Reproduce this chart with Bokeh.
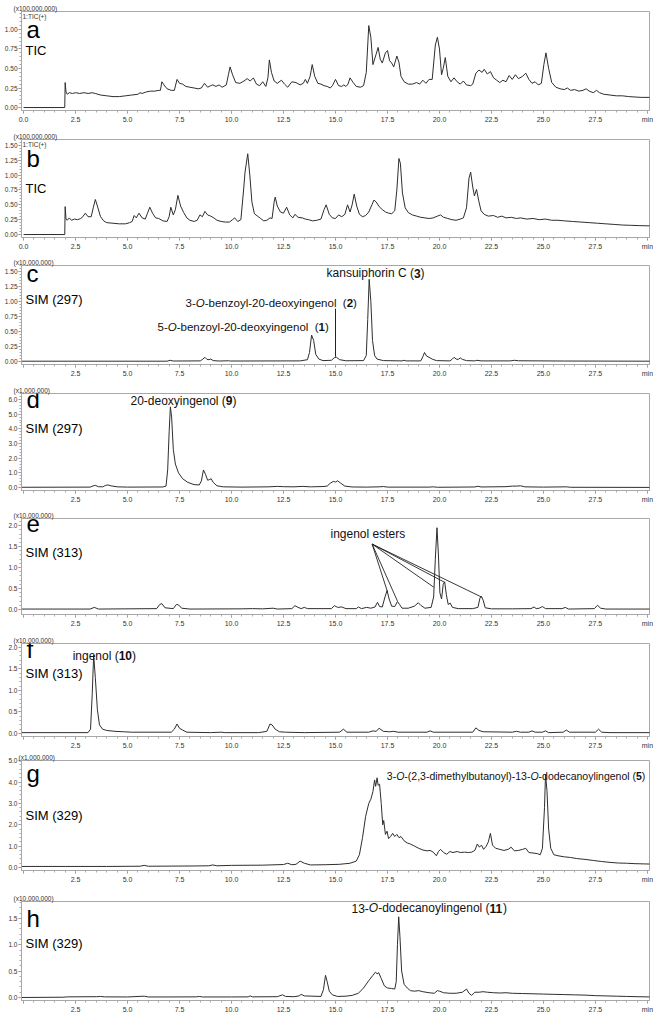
from bokeh.plotting import figure
from bokeh.models import Label, FixedTicker, PrintfTickFormatter, CustomJSTickFormatter, Range1d
from bokeh.layouts import column
from bokeh.embed import file_html
from bokeh.resources import INLINE

FONT = "Liberation Sans"
LINE = "#2e2e2e"
FRAME = "#a8a8a8"
TXT = "#111111"

# ---------------- data (time in min, intensity in the panel's multiplier units) ----------------
trace_a = [(0.0,0.0),(1.98,0.0),(2.0,0.32),(2.04,0.20),(2.1,0.17),(2.2,0.19),(2.35,0.18),(2.5,0.19),(2.7,0.18),(2.9,0.19),(3.1,0.18),(3.3,0.19),(3.45,0.18),(3.7,0.16),(4.0,0.15),(4.3,0.14),(4.6,0.14),(4.9,0.15),(5.2,0.16),(5.5,0.17),(5.6,0.19),(5.7,0.18),(5.9,0.20),(6.1,0.21),(6.3,0.21),(6.5,0.22),(6.58,0.22),(6.65,0.33),(6.75,0.29),(6.9,0.24),(7.1,0.22),(7.25,0.22),(7.38,0.36),(7.5,0.31),(7.65,0.30),(7.8,0.27),(8.0,0.26),(8.2,0.25),(8.4,0.24),(8.55,0.25),(8.7,0.31),(8.85,0.26),(9.0,0.28),(9.1,0.29),(9.25,0.27),(9.4,0.29),(9.55,0.26),(9.75,0.29),(9.85,0.42),(9.93,0.52),(10.05,0.42),(10.2,0.32),(10.4,0.31),(10.6,0.34),(10.75,0.37),(10.9,0.34),(11.05,0.38),(11.2,0.30),(11.35,0.28),(11.5,0.33),(11.65,0.27),(11.75,0.38),(11.82,0.61),(11.92,0.45),(12.05,0.34),(12.2,0.31),(12.4,0.35),(12.55,0.30),(12.7,0.26),(12.9,0.33),(13.1,0.32),(13.3,0.29),(13.45,0.31),(13.55,0.36),(13.65,0.31),(13.78,0.40),(13.88,0.55),(14.0,0.40),(14.15,0.31),(14.3,0.30),(14.45,0.28),(14.6,0.27),(14.75,0.25),(14.85,0.28),(15.0,0.36),(15.15,0.28),(15.3,0.27),(15.4,0.29),(15.5,0.27),(15.6,0.30),(15.7,0.38),(15.85,0.32),(16.0,0.27),(16.2,0.26),(16.35,0.28),(16.48,0.45),(16.6,1.05),(16.7,0.90),(16.8,0.55),(16.95,0.68),(17.05,0.77),(17.15,0.62),(17.25,0.57),(17.4,0.70),(17.5,0.73),(17.6,0.60),(17.7,0.57),(17.8,0.52),(17.95,0.66),(18.05,0.58),(18.15,0.40),(18.3,0.33),(18.5,0.30),(18.7,0.30),(18.9,0.32),(19.05,0.30),(19.2,0.35),(19.35,0.31),(19.5,0.36),(19.65,0.36),(19.8,0.80),(19.9,0.90),(20.0,0.75),(20.1,0.42),(20.18,0.50),(20.28,0.64),(20.4,0.40),(20.55,0.33),(20.7,0.38),(20.85,0.33),(21.0,0.30),(21.15,0.34),(21.3,0.29),(21.5,0.28),(21.6,0.30),(21.75,0.44),(21.9,0.48),(22.05,0.45),(22.15,0.49),(22.3,0.43),(22.45,0.46),(22.6,0.38),(22.75,0.35),(22.9,0.32),(23.05,0.35),(23.2,0.33),(23.35,0.41),(23.5,0.36),(23.65,0.42),(23.8,0.37),(24.0,0.40),(24.15,0.44),(24.3,0.36),(24.45,0.31),(24.6,0.33),(24.75,0.29),(24.9,0.31),(25.02,0.55),(25.12,0.70),(25.25,0.50),(25.4,0.32),(25.6,0.26),(25.8,0.24),(26.0,0.23),(26.15,0.25),(26.3,0.22),(26.5,0.23),(26.7,0.21),(26.9,0.22),(27.05,0.24),(27.2,0.21),(27.4,0.19),(27.55,0.22),(27.7,0.19),(27.9,0.17),(28.2,0.16),(28.5,0.15),(28.8,0.15),(29.1,0.14),(29.4,0.135),(29.7,0.13),(30.2,0.13)]

trace_b = [(0.0,0.0),(1.98,0.0),(2.0,0.47),(2.04,0.26),(2.1,0.24),(2.2,0.28),(2.3,0.24),(2.45,0.26),(2.6,0.25),(2.75,0.27),(2.85,0.30),(2.97,0.36),(3.1,0.30),(3.25,0.30),(3.35,0.45),(3.45,0.59),(3.55,0.48),(3.7,0.30),(3.85,0.23),(4.0,0.20),(4.3,0.19),(4.6,0.18),(4.9,0.18),(5.1,0.20),(5.22,0.22),(5.32,0.32),(5.42,0.28),(5.55,0.36),(5.7,0.28),(5.85,0.26),(5.95,0.35),(6.07,0.46),(6.2,0.36),(6.35,0.28),(6.5,0.27),(6.7,0.23),(6.9,0.22),(7.0,0.30),(7.08,0.46),(7.2,0.33),(7.3,0.42),(7.42,0.66),(7.55,0.48),(7.7,0.37),(7.85,0.28),(8.0,0.24),(8.2,0.22),(8.35,0.24),(8.48,0.33),(8.6,0.30),(8.72,0.39),(8.85,0.33),(9.0,0.31),(9.15,0.28),(9.3,0.24),(9.5,0.22),(9.7,0.21),(9.9,0.21),(10.05,0.25),(10.15,0.28),(10.3,0.22),(10.45,0.25),(10.58,0.75),(10.65,1.05),(10.78,1.36),(10.88,1.0),(10.98,0.55),(11.1,0.35),(11.25,0.31),(11.4,0.27),(11.55,0.23),(11.7,0.24),(11.85,0.28),(11.95,0.27),(12.05,0.55),(12.1,0.63),(12.2,0.48),(12.35,0.38),(12.5,0.36),(12.65,0.46),(12.8,0.33),(12.95,0.28),(13.05,0.34),(13.2,0.29),(13.4,0.28),(13.55,0.26),(13.7,0.25),(13.9,0.23),(14.1,0.24),(14.3,0.26),(14.45,0.42),(14.55,0.50),(14.7,0.34),(14.85,0.28),(15.0,0.27),(15.15,0.33),(15.3,0.30),(15.45,0.34),(15.58,0.50),(15.7,0.38),(15.8,0.50),(15.9,0.68),(16.02,0.48),(16.15,0.34),(16.3,0.30),(16.45,0.32),(16.6,0.38),(16.75,0.50),(16.85,0.58),(16.95,0.55),(17.1,0.47),(17.25,0.42),(17.4,0.38),(17.55,0.36),(17.7,0.35),(17.85,0.40),(17.95,0.75),(18.05,1.28),(18.12,1.20),(18.22,0.70),(18.35,0.45),(18.5,0.37),(18.7,0.33),(18.9,0.31),(19.1,0.29),(19.3,0.28),(19.5,0.27),(19.7,0.28),(19.9,0.31),(20.05,0.33),(20.2,0.29),(20.4,0.27),(20.6,0.25),(20.8,0.24),(21.0,0.26),(21.15,0.28),(21.3,0.45),(21.42,0.95),(21.5,1.05),(21.6,0.80),(21.68,0.65),(21.78,0.76),(21.9,0.55),(22.0,0.40),(22.15,0.34),(22.35,0.31),(22.6,0.32),(22.8,0.29),(23.0,0.31),(23.2,0.28),(23.45,0.29),(23.7,0.27),(23.9,0.28),(24.2,0.26),(24.5,0.27),(24.8,0.25),(25.1,0.26),(25.4,0.24),(25.7,0.24),(26.0,0.23),(26.4,0.22),(26.8,0.21),(27.2,0.20),(27.6,0.19),(28.0,0.18),(28.4,0.17),(28.8,0.16),(29.2,0.155),(29.6,0.15),(30.2,0.145)]

trace_c = [(-0.1,0.005),(6.9,0.005),(7.05,0.02),(7.2,0.008),(8.5,0.01),(8.62,0.04),(8.72,0.07),(8.82,0.035),(8.92,0.03),(9.0,0.04),(9.12,0.015),(9.4,0.008),(9.85,0.012),(9.95,0.008),(13.3,0.01),(13.65,0.03),(13.75,0.15),(13.85,0.44),(13.95,0.35),(14.05,0.12),(14.2,0.04),(14.4,0.015),(14.8,0.02),(14.95,0.065),(15.05,0.07),(15.2,0.03),(15.5,0.012),(16.35,0.015),(16.48,0.1),(16.55,0.7),(16.62,1.37),(16.7,1.0),(16.78,0.35),(16.88,0.1),(17.0,0.04),(17.3,0.015),(18.2,0.01),(18.3,0.02),(18.4,0.01),(19.1,0.01),(19.2,0.08),(19.28,0.15),(19.38,0.09),(19.5,0.07),(19.65,0.04),(19.85,0.015),(20.5,0.01),(20.62,0.04),(20.7,0.07),(20.8,0.04),(20.9,0.035),(21.0,0.06),(21.1,0.035),(21.3,0.015),(21.7,0.01),(21.8,0.02),(22.0,0.01),(23.4,0.01),(23.6,0.02),(23.8,0.012),(26.0,0.008),(30.2,0.005)]

trace_d = [(-0.1,0.02),(3.2,0.03),(3.35,0.12),(3.45,0.15),(3.6,0.06),(3.8,0.05),(3.95,0.15),(4.05,0.18),(4.2,0.12),(4.5,0.05),(5.0,0.03),(6.7,0.04),(6.85,0.1),(6.93,1.2),(7.0,3.8),(7.06,5.5),(7.12,4.8),(7.2,2.6),(7.3,1.6),(7.45,1.0),(7.65,0.6),(7.9,0.35),(8.2,0.2),(8.45,0.18),(8.55,0.45),(8.65,1.2),(8.75,0.9),(8.85,0.5),(8.95,0.55),(9.02,0.6),(9.12,0.35),(9.3,0.12),(9.6,0.05),(10.5,0.03),(11.8,0.05),(12.2,0.08),(12.5,0.06),(13.0,0.05),(13.4,0.08),(13.8,0.05),(14.4,0.07),(14.6,0.1),(14.75,0.3),(14.9,0.42),(15.0,0.38),(15.1,0.46),(15.25,0.3),(15.45,0.1),(15.8,0.04),(16.5,0.03),(17.1,0.05),(17.3,0.07),(17.5,0.03),(19.5,0.03),(19.7,0.05),(19.9,0.02),(21.7,0.04),(21.85,0.09),(22.0,0.04),(23.2,0.06),(23.5,0.1),(23.7,0.1),(23.9,0.12),(24.1,0.05),(25.0,0.03),(26.1,0.05),(26.3,0.02),(30.2,0.01)]

trace_e = [(-0.1,0.01),(3.2,0.01),(3.4,0.05),(3.6,0.01),(6.4,0.02),(6.55,0.12),(6.65,0.14),(6.8,0.04),(7.2,0.02),(7.35,0.12),(7.45,0.11),(7.6,0.03),(8.0,0.01),(10.5,0.015),(11.0,0.02),(11.5,0.015),(12.0,0.03),(12.2,0.01),(12.9,0.02),(13.05,0.09),(13.2,0.05),(13.35,0.02),(13.5,0.05),(13.65,0.02),(14.8,0.02),(14.95,0.09),(15.1,0.05),(15.3,0.06),(15.5,0.02),(16.0,0.02),(16.1,0.06),(16.25,0.02),(16.5,0.05),(16.7,0.03),(16.9,0.06),(17.02,0.17),(17.12,0.07),(17.25,0.06),(17.38,0.3),(17.48,0.45),(17.58,0.25),(17.7,0.08),(17.85,0.07),(17.98,0.19),(18.08,0.12),(18.2,0.03),(18.5,0.03),(18.8,0.08),(18.98,0.16),(19.1,0.1),(19.3,0.03),(19.6,0.05),(19.72,0.3),(19.8,1.2),(19.88,1.95),(19.95,1.3),(20.02,0.4),(20.1,0.25),(20.18,0.6),(20.25,0.66),(20.33,0.35),(20.42,0.12),(20.52,0.15),(20.62,0.05),(20.9,0.02),(21.6,0.02),(21.85,0.05),(21.95,0.28),(22.02,0.31),(22.1,0.22),(22.2,0.04),(22.5,0.015),(23.5,0.015),(24.4,0.02),(24.55,0.06),(24.65,0.02),(24.8,0.03),(24.95,0.07),(25.1,0.02),(25.9,0.02),(26.05,0.05),(26.2,0.01),(27.45,0.02),(27.6,0.1),(27.75,0.03),(28.0,0.01),(30.2,0.01)]

trace_f = [(-0.1,0.02),(3.1,0.02),(3.22,0.1),(3.3,0.9),(3.37,1.82),(3.45,1.3),(3.55,0.55),(3.65,0.2),(3.8,0.1),(4.0,0.07),(4.4,0.05),(4.8,0.04),(5.2,0.03),(7.1,0.03),(7.25,0.1),(7.38,0.22),(7.5,0.12),(7.65,0.08),(7.85,0.03),(9.0,0.02),(9.5,0.03),(9.7,0.02),(11.3,0.02),(11.7,0.05),(11.85,0.22),(11.95,0.2),(12.1,0.1),(12.3,0.04),(12.6,0.03),(13.5,0.02),(15.2,0.03),(15.38,0.1),(15.55,0.03),(16.6,0.03),(16.8,0.06),(16.95,0.05),(17.1,0.12),(17.3,0.05),(17.6,0.04),(17.8,0.05),(18.0,0.03),(19.4,0.03),(19.55,0.06),(19.7,0.03),(21.6,0.03),(21.75,0.13),(21.9,0.07),(22.1,0.04),(23.5,0.03),(23.7,0.05),(23.9,0.03),(24.3,0.03),(24.45,0.06),(24.6,0.03),(24.95,0.03),(25.1,0.06),(25.25,0.02),(25.95,0.03),(26.1,0.08),(26.25,0.03),(27.5,0.03),(27.65,0.1),(27.8,0.03),(28.2,0.02),(30.2,0.02)]

trace_g = [(-0.1,0.05),(2.0,0.05),(4.0,0.05),(5.6,0.06),(5.8,0.1),(6.0,0.06),(8.0,0.07),(8.9,0.08),(9.1,0.12),(9.3,0.08),(10.0,0.1),(11.5,0.11),(12.5,0.14),(12.7,0.2),(12.9,0.13),(13.1,0.15),(13.3,0.3),(13.5,0.2),(13.8,0.12),(14.5,0.13),(15.2,0.15),(15.7,0.2),(16.0,0.3),(16.15,0.6),(16.3,1.4),(16.45,2.4),(16.6,3.0),(16.7,3.2),(16.8,3.55),(16.88,4.1),(16.93,3.8),(17.0,4.2),(17.05,3.85),(17.12,3.9),(17.2,3.0),(17.27,2.0),(17.32,2.2),(17.4,1.55),(17.48,1.7),(17.55,1.35),(17.65,1.45),(17.75,1.6),(17.85,1.45),(17.95,1.55),(18.05,1.4),(18.15,1.45),(18.3,1.25),(18.45,1.15),(18.6,1.1),(18.8,1.0),(19.0,0.9),(19.2,0.82),(19.4,0.78),(19.55,0.8),(19.7,0.72),(19.85,0.55),(19.95,0.75),(20.05,0.85),(20.2,0.7),(20.35,0.62),(20.5,0.75),(20.65,0.7),(20.85,0.75),(21.0,0.7),(21.2,0.72),(21.4,0.7),(21.55,0.72),(21.7,0.8),(21.82,1.1),(21.92,0.95),(22.02,1.05),(22.12,0.85),(22.25,1.0),(22.35,1.2),(22.45,1.6),(22.55,1.05),(22.7,0.9),(22.9,0.85),(23.1,0.8),(23.3,0.85),(23.45,0.95),(23.6,0.78),(23.8,0.8),(24.0,0.85),(24.15,0.9),(24.3,0.7),(24.5,0.68),(24.7,0.65),(24.85,0.6),(24.95,0.9),(25.05,2.8),(25.1,4.35),(25.17,3.6),(25.25,1.8),(25.35,0.9),(25.5,0.6),(25.7,0.55),(26.0,0.5),(26.3,0.47),(26.6,0.42),(27.0,0.38),(27.4,0.33),(27.8,0.28),(28.2,0.24),(28.6,0.21),(29.0,0.2),(29.4,0.18),(29.8,0.17),(30.2,0.16)]

trace_h = [(-0.1,0.0),(1.9,0.005),(2.1,0.012),(3.5,0.015),(3.7,0.02),(3.9,0.012),(5.0,0.01),(5.8,0.025),(6.0,0.01),(7.0,0.01),(8.3,0.012),(8.45,0.02),(8.6,0.01),(10.0,0.01),(10.8,0.012),(10.9,0.03),(11.0,0.012),(12.2,0.015),(12.45,0.05),(12.6,0.02),(13.0,0.015),(13.25,0.03),(13.35,0.06),(13.5,0.03),(14.3,0.02),(14.42,0.15),(14.52,0.42),(14.6,0.3),(14.7,0.12),(14.85,0.05),(15.1,0.02),(15.5,0.025),(15.8,0.04),(16.1,0.08),(16.35,0.18),(16.6,0.32),(16.8,0.42),(16.92,0.48),(17.0,0.45),(17.08,0.47),(17.2,0.36),(17.35,0.22),(17.5,0.18),(17.7,0.17),(17.85,0.16),(17.92,0.3),(17.98,1.0),(18.04,1.53),(18.1,1.15),(18.18,0.5),(18.3,0.25),(18.45,0.18),(18.6,0.13),(18.8,0.12),(19.0,0.13),(19.2,0.11),(19.5,0.09),(19.75,0.08),(19.9,0.13),(20.0,0.12),(20.2,0.09),(20.5,0.08),(20.8,0.08),(21.1,0.1),(21.3,0.16),(21.42,0.08),(21.55,0.04),(21.7,0.1),(21.9,0.1),(22.1,0.11),(22.3,0.1),(22.6,0.09),(22.9,0.085),(23.2,0.09),(23.5,0.08),(24.0,0.075),(24.5,0.07),(25.0,0.065),(25.5,0.06),(26.0,0.055),(26.5,0.05),(27.0,0.045),(27.5,0.035),(28.0,0.03),(28.5,0.025),(29.0,0.02),(29.5,0.015),(30.2,0.01)]

# tick labels
x_tick_values = [0.0, 2.5, 5.0, 7.5, 10.0, 12.5, 15.0, 17.5, 20.0, 22.5, 25.0, 27.5, 30.0]
x_labels_tic = ["0.0", "2.5", "5.0", "7.5", "10.0", "12.5", "15.0", "17.5", "20.0", "22.5", "25.0", "27.5", "min"]
x_labels_sim = ["", "2.5", "5.0", "7.5", "10.0", "12.5", "15.0", "17.5", "20.0", "22.5", "25.0", "27.5", "min"]

# annotation pointers
c_marker_t = [15.0]
c_marker_v0 = [0.08]
c_marker_v1 = [0.88]
e_origin_t = 16.76
e_origin_v = 1.56
e_target_t = [17.50, 17.98, 19.73, 20.24, 22.05]
e_target_v = [0.42, 0.20, 0.53, 0.65, 0.29]

# Arial / Liberation Sans advance widths (per 1000 em) for laying out mixed-style labels
W = {' ':278,'(':333,')':333,',':278,'-':333,'.':278,':':278,'+':584,
     'A':667,'B':667,'C':722,'D':722,'E':667,'F':611,'G':778,'H':722,'I':278,'J':500,'K':667,'L':556,'M':833,
     'N':722,'O':778,'P':667,'Q':778,'R':722,'S':667,'T':611,'U':722,'V':667,'W':944,'X':667,'Y':667,'Z':611,
     'a':556,'b':556,'c':500,'d':556,'e':556,'f':278,'g':556,'h':556,'i':222,'j':222,'k':500,'l':222,'m':833,
     'n':556,'o':556,'p':556,'q':556,'r':333,'s':500,'t':278,'u':556,'v':500,'w':722,'x':500,'y':500,'z':500}
for _d in "0123456789":
    W[_d] = 556


def tw(s, size):
    return sum(W.get(ch, 556) for ch in s) * size / 1000.0


def rich(p, x, y, runs, size, align="left"):
    total = sum(tw(t, size) for t, _ in runs)
    off = -total if align == "right" else 0.0
    for t, style in runs:
        core = t.strip(" ")
        lead = len(t) - len(t.lstrip(" "))
        p.add_layout(Label(x=x, y=y, x_offset=off + tw(" " * lead, size), text=core,
                           text_font=FONT, text_font_size=f"{size}px", text_font_style=style,
                           text_color=TXT, text_baseline="middle", text_align="left"))
        off += tw(t, size)


XR = (-0.1, 30.1)

panels = [
    dict(trace=trace_a, yr=(-0.038, 1.23), yt=[0, 0.25, 0.5, 0.75, 1.0], fmt="%.2f", minor=0.05,
         mult="(x100,000,000)", letter="a", ly=0.885, sub="TIC", sy=0.667, tic=True, bt=11, fh=99, bb=20),
    dict(trace=trace_b, yr=(-0.05, 1.60), yt=[0, 0.25, 0.5, 0.75, 1.0, 1.25, 1.5], fmt="%.2f", minor=0.05,
         mult="(x100,000,000)", letter="b", ly=1.13, sub="TIC", sy=0.69, tic=True, bt=9, fh=98, bb=19),
    dict(trace=trace_c, yr=(-0.05, 1.60), yt=[0, 0.25, 0.5, 0.75, 1.0, 1.25, 1.5], fmt="%.2f", minor=0.05,
         mult="(x10,000,000)", letter="c", ly=1.317, sub="SIM (297)", sy=0.95, tic=False, bt=9, fh=99, bb=20),
    dict(trace=trace_d, yr=(-0.2, 6.41), yt=[0, 1, 2, 3, 4, 5, 6], fmt="%.1f", minor=0.2,
         mult="(x1,000,000)", letter="d", ly=5.385, sub="SIM (297)", sy=3.68, tic=False, bt=9, fh=97, bb=19),
    dict(trace=trace_e, yr=(-0.12, 2.17), yt=[0, 0.5, 1.0, 1.5, 2.0], fmt="%.1f", minor=0.1,
         mult="(x10,000,000)", letter="e", ly=1.83, sub="SIM (313)", sy=1.24, tic=False, bt=9, fh=96, bb=20),
    dict(trace=trace_f, yr=(-0.07, 2.09), yt=[0, 0.5, 1.0, 1.5, 2.0], fmt="%.1f", minor=0.1,
         mult="(x10,000,000)", letter="f", ly=1.744, sub="SIM (313)", sy=1.28, tic=False, bt=9, fh=93, bb=15),
    dict(trace=trace_g, yr=(-0.14, 5.01), yt=[0, 1, 2, 3, 4, 5], fmt="%.1f", minor=0.2,
         mult="(x1,000,000)", letter="g", ly=4.0, sub="SIM (329)", sy=2.23, tic=False, bt=8, fh=111, bb=22),
    dict(trace=trace_h, yr=(-0.057, 1.82), yt=[0, 0.5, 1.0, 1.5], fmt="%.1f", minor=0.1,
         mult="(x10,000,000)", letter="h", ly=1.33, sub="SIM (329)", sy=0.93, tic=False, bt=9, fh=99, bb=15),
]

figs = []
for cfg in panels:
    H = cfg["bt"] + cfg["fh"] + cfg["bb"]
    p = figure(width=653, height=H, x_range=Range1d(*XR), y_range=Range1d(*cfg["yr"]),
               output_backend="svg", toolbar_location=None, title=cfg["mult"],
               min_border_left=21, min_border_right=4, min_border_top=cfg["bt"], min_border_bottom=cfg["bb"])
    p.title.text_font = FONT
    p.title.text_font_size = "6.5px"
    p.title.text_font_style = "normal"
    p.title.text_color = "#333333"
    p.title.align = "left"
    p.title.offset = -8 if cfg["letter"] != "g" else -3
    p.title.standoff = 0
    p.xgrid.visible = False
    p.ygrid.visible = False
    p.outline_line_color = FRAME
    p.outline_line_width = 1
    p.background_fill_color = "white"
    p.border_fill_color = "white"

    labels = x_labels_tic if cfg["tic"] else x_labels_sim
    xminor = [k * 0.5 for k in range(0, 61)]
    p.xaxis.ticker = FixedTicker(ticks=x_tick_values, minor_ticks=xminor)
    p.xaxis.formatter = CustomJSTickFormatter(args=dict(vals=x_tick_values, labs=labels),
        code="const i = vals.findIndex(v => Math.abs(v - tick) < 1e-6); return i < 0 ? '' : labs[i];")
    yt = cfg["yt"]
    step = cfg["minor"]
    n = int(round((yt[-1] + (yt[1] - yt[0])) / step))
    yminor = [round(k * step, 4) for k in range(0, n + 1) if k * step <= cfg["yr"][1]]
    p.yaxis.ticker = FixedTicker(ticks=yt, minor_ticks=yminor)
    p.yaxis.formatter = PrintfTickFormatter(format=cfg["fmt"])

    for ax in (p.xaxis[0], p.yaxis[0]):
        ax.axis_line_color = FRAME
        ax.major_tick_line_color = "#888888"
        ax.minor_tick_line_color = "#aaaaaa"
        ax.major_tick_in = 0
        ax.major_tick_out = 3
        ax.minor_tick_in = 0
        ax.minor_tick_out = 2
        ax.major_label_text_font = FONT
        ax.major_label_text_color = "#333333"
    p.xaxis.major_label_text_font_size = "7px"
    p.xaxis.major_label_standoff = 2
    p.yaxis.major_label_text_font_size = "6.5px"
    p.yaxis.major_label_standoff = 1

    ts = [pt[0] for pt in cfg["trace"]]
    vs = [pt[1] for pt in cfg["trace"]]
    p.line(ts, vs, line_color=LINE, line_width=1.0)

    ppu = cfg["fh"] / (cfg["yr"][1] - cfg["yr"][0])   # pixels per data unit
    if cfg["tic"]:
        p.add_layout(Label(x=XR[0], y=cfg["yr"][1], x_offset=1, y_offset=-1, text="1:TIC(+)",
                           text_font=FONT, text_font_size="6.5px", text_color="#333333",
                           text_baseline="top", text_align="left"))
    p.add_layout(Label(x=XR[0], y=cfg["ly"] + 0.37 * 24 / ppu, x_offset=5, text=cfg["letter"], text_font=FONT,
                       text_font_size="24px", text_color="#000000", text_baseline="alphabetic"))
    p.add_layout(Label(x=XR[0], y=cfg["sy"] + 0.37 * 13 / ppu, x_offset=4, text=cfg["sub"], text_font=FONT,
                       text_font_size="13px", text_color="#000000", text_baseline="alphabetic"))
    figs.append(p)

pa, pb, pc, pd, pe, pf, pg, ph = figs

# panel c annotations
rich(pc, 14.57, 1.467, [("kansuiphorin C (", "normal"), ("3", "bold"), (")", "normal")], 12)
rich(pc, 7.79, 0.967, [("3-", "normal"), ("O", "italic"), ("-benzoyl-20-deoxyingenol", "normal"),
                        ("  (", "normal"), ("2", "bold"), (")", "normal")], 11.5)
rich(pc, 6.44, 0.583, [("5-", "normal"), ("O", "italic"), ("-benzoyl-20-deoxyingenol", "normal"),
                        ("  (", "normal"), ("1", "bold"), (")", "normal")], 11.5)
pc.segment(x0=c_marker_t, y0=c_marker_v0, x1=c_marker_t, y1=c_marker_v1, line_color="#222222", line_width=1)

# panel d
rich(pd, 5.14, 5.93, [("20-deoxyingenol", "normal"), (" (", "normal"), ("9", "bold"), (")", "normal")], 12)

# panel e
rich(pe, 14.76, 1.79, [("ingenol esters", "normal")], 12)
pe.segment(x0=[e_origin_t] * len(e_target_t), y0=[e_origin_v] * len(e_target_t),
           x1=e_target_t, y1=e_target_v, line_color="#222222", line_width=0.9)

# panel f
rich(pf, 2.36, 1.81, [("ingenol", "normal"), (" (", "normal"), ("10", "bold"), (")", "normal")], 12)

# panel g
rich(pg, 29.9, 4.27, [("3-", "normal"), ("O", "italic"), ("-(2,3-dimethylbutanoyl)-13-", "normal"),
                       ("O", "italic"), ("-dodecanoylingenol", "normal"), (" (", "normal"),
                       ("5", "bold"), (")", "normal")], 10.5, align="right")

# panel h
rich(ph, 15.77, 1.69, [("13-", "normal"), ("O", "italic"), ("-dodecanoylingenol", "normal"), (" (", "normal"),
                        ("11", "bold"), (")", "normal")], 12)

layout = column(*figs, spacing=0)
open("out.html", "w").write(file_html(layout, INLINE))
